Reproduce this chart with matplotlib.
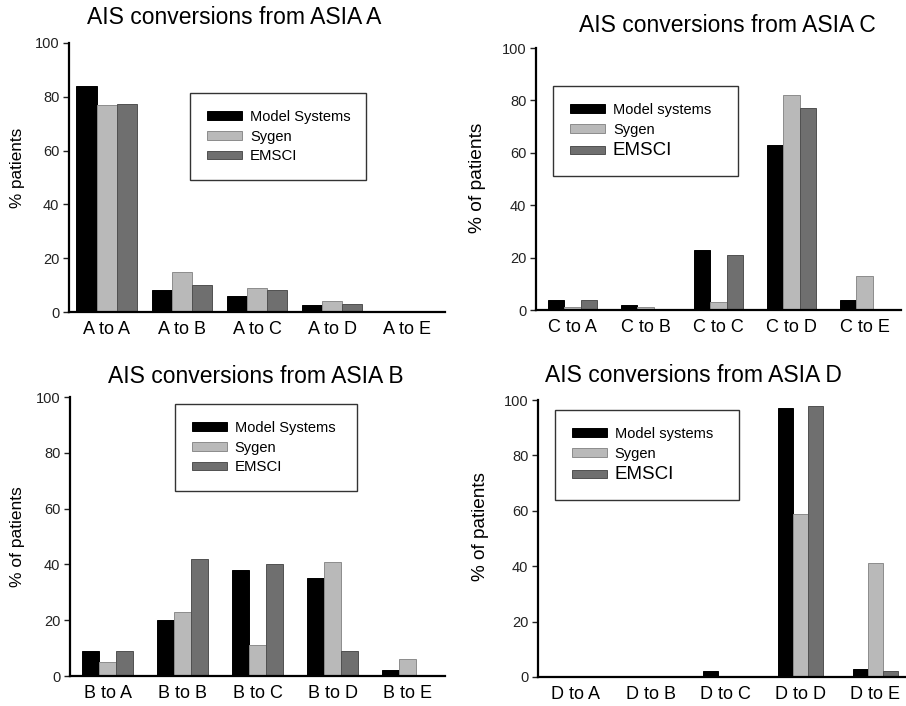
import numpy as np
import matplotlib
matplotlib.use("Agg")
import matplotlib.pyplot as plt

plt.rcParams['font.family'] = ['Liberation Sans', 'DejaVu Sans']

series = ["Model Systems", "Sygen", "EMSCI"]
series_lower = ["Model systems", "Sygen", "EMSCI"]

cats_a = ["A to A", "A to B", "A to C", "A to D", "A to E"]
ms_a = [84, 8, 6, 2.5, 0]
sy_a = [77, 15, 9, 4, 0]
em_a = [77.5, 10, 8, 3, 0]

cats_b = ["B to A", "B to B", "B to C", "B to D", "B to E"]
ms_b = [9, 20, 38, 35, 2]
sy_b = [5, 23, 11, 41, 6]
em_b = [9, 42, 40, 9, 0]

cats_c = ["C to A", "C to B", "C to C", "C to D", "C to E"]
ms_c = [4, 2, 23, 63, 4]
sy_c = [1, 1, 3, 82, 13]
em_c = [4, 0, 21, 77, 0]

cats_d = ["D to A", "D to B", "D to C", "D to D", "D to E"]
ms_d = [0, 0, 2, 97, 3]
sy_d = [0, 0, 0, 59, 41]
em_d = [0, 0, 0, 98, 2]

fills = ["#000000", "#b9b9b9", "#6f6f6f"]
edges = ["#000000", "#8c8c8c", "#505050"]

fig = plt.figure(figsize=(9.06, 7.06), dpi=100)


def panel(rect, cats, vals, labels, width, title, title_xy, ylab, ylab_xy,
          ylab_size, leg_box, em_size):
    ax = fig.add_axes(rect)
    x = np.arange(len(cats))
    for k in range(3):
        ax.bar(x + (k - 1) * width, vals[k], width, color=fills[k],
               edgecolor=edges[k], linewidth=0.7, label=labels[k])
    ax.set_xlim(-0.5, 4.5)
    ax.set_ylim(0, 100)
    ax.set_yticks([0, 20, 40, 60, 80, 100])
    ax.set_xticks(x)
    ax.set_xticklabels(cats, fontsize=13)
    ax.tick_params(axis='x', length=0, pad=6.5)
    ax.tick_params(axis='y', length=4, width=1, labelsize=10.5, pad=3,
                   colors='#222222')
    for s in ['top', 'right']:
        ax.spines[s].set_visible(False)
    for s in ['left', 'bottom']:
        ax.spines[s].set_linewidth(1.6)
    leg = ax.legend(loc='upper left', bbox_to_anchor=leg_box, mode='expand',
                    borderaxespad=0, fontsize=10.5, handlelength=2.4,
                    handleheight=0.5, handletextpad=0.55, labelspacing=0.4,
                    borderpad=1.15, fancybox=False, framealpha=1)
    leg.get_frame().set_edgecolor('#333333')
    leg.get_frame().set_linewidth(1.0)
    leg.get_texts()[2].set_fontsize(em_size)
    fig.text(title_xy[0] / 906, 1 - title_xy[1] / 706, title, fontsize=16.5,
             ha='center', va='baseline')
    fig.text(ylab_xy[0] / 906, 1 - ylab_xy[1] / 706, ylab, fontsize=ylab_size,
             rotation=90, ha='center', va='center')
    return ax


panel([69 / 906, 1 - 312 / 706, 376 / 906, 269 / 706], cats_a,
      [ms_a, sy_a, em_a], series, 0.267, "AIS conversions from ASIA A",
      (234, 24), "% patients", (18, 168), 12.3,
      (0.322, 0.814 - 0.33, 0.468, 0.33), 10.8)

panel([536 / 906, 1 - 310 / 706, 365 / 906, 262 / 706], cats_c,
      [ms_c, sy_c, em_c], series_lower, 0.22, "AIS conversions from ASIA C",
      (727, 32), "% of patients", (478, 178), 13.8,
      (0.047, 0.855 - 0.34, 0.507, 0.34), 13.5)

panel([70 / 906, 1 - 676 / 706, 375 / 906, 279 / 706], cats_b,
      [ms_b, sy_b, em_b], series, 0.225, "AIS conversions from ASIA B",
      (256, 383), "% of patients", (18, 537), 12.5,
      (0.28, 0.975 - 0.31, 0.485, 0.31), 10.8)

panel([538 / 906, 1 - 677 / 706, 375 / 906, 277 / 706], cats_d,
      [ms_d, sy_d, em_d], series_lower, 0.2, "AIS conversions from ASIA D",
      (693, 382), "% of patients", (480, 527), 13.7,
      (0.045, 0.964 - 0.33, 0.491, 0.33), 13.5)

fig.savefig("out.png", dpi=100)
